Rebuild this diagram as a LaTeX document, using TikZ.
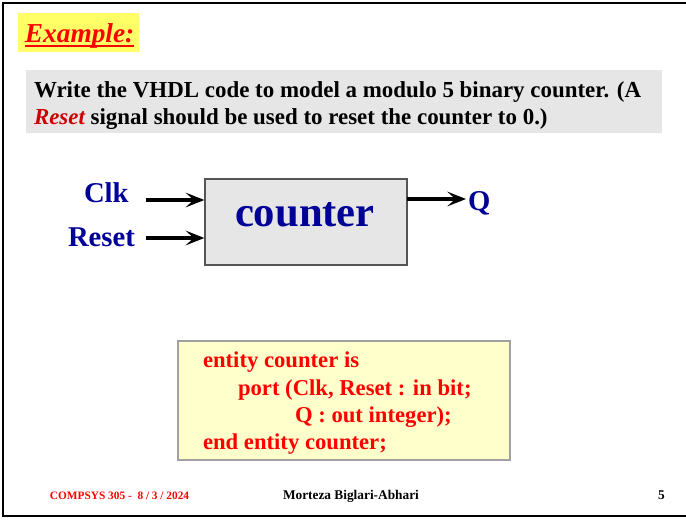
\documentclass[tikz,border=0pt]{standalone}
\usepackage{fontspec}
\setmainfont{Liberation Serif}
\usetikzlibrary{arrows.meta}

\definecolor{hiyellow}{RGB}{255,255,102}
\definecolor{panelgray}{RGB}{230,230,230}
\definecolor{codeyellow}{RGB}{255,255,204}
\definecolor{codeframe}{RGB}{160,160,160}
\definecolor{boxframe}{RGB}{85,85,85}
\definecolor{portblue}{RGB}{0,0,153}
\definecolor{kwred}{RGB}{255,0,0}
\definecolor{darkred}{RGB}{204,0,0}

\tikzset{
  txt/.style={inner sep=0pt, outer sep=0pt, anchor=base west},
  sig/.style={txt, text=portblue, font=\bfseries\fontsize{21.5}{24}\selectfont},
  code/.style={txt, text=kwred, font=\bfseries\fontsize{17}{20}\selectfont},
  task/.style={txt, font=\bfseries\fontsize{17.2}{20}\selectfont},
  wire/.style={line width=2.8pt, -{Stealth[length=14pt,width=11pt,inset=6pt]}},
  frame/.style={line width=2pt, draw=black}
}

\begin{document}
\begin{tikzpicture}[x=0.75pt, y=-0.75pt]
\useasboundingbox (0,0) rectangle (686,519);

% slide frame (open on the right)
\draw[frame] (687,3) -- (3,3) -- (3,516) -- (687,516);

% heading
\fill[hiyellow] (18,13) rectangle (139,52);
\node[txt, text=kwred, font=\bfseries\itshape\fontsize{20.5}{24}\selectfont] (ex) at (25,42) {Example:};
\draw[kwred, line width=1.5pt] ([yshift=-3pt]ex.base west) -- ([yshift=-3pt]ex.base east);

% task statement
\fill[panelgray] (26,70) rectangle (662,133);
\node[task] (q1) at (34,97)
  {Write the VHDL code to model a modulo 5 binary counter. (A};
\node[task] (q2) at (34,124)
  {{\color{darkred}\itshape Reset} signal should be used to reset the counter to 0.)};

% counter block
\node[draw=boxframe, fill=panelgray, line width=1pt, minimum width=202*0.75pt,
      minimum height=86*0.75pt, inner sep=0pt] (ctr) at (306,222) {};
\node[txt, text=portblue, font=\bfseries\fontsize{32}{36}\selectfont] (ctrlbl) at (235,226) {counter};

\node[sig] (clk) at (84,202) {Clk};
\node[sig] (rst) at (68,246) {Reset};
\node[sig] (q) at (468,210) {Q};

\coordinate (clkin) at (146,200);
\coordinate (rstin) at (146,238);
\draw[wire] (clkin) -- (clkin -| ctr.west);
\draw[wire] (rstin) -- (rstin -| ctr.west);
\coordinate (qout) at (407,199);
\draw[wire] (qout) -- (466,199);

% entity declaration
\node[draw=codeframe, fill=codeyellow, line width=1pt, minimum width=332*0.75pt,
      minimum height=119*0.75pt, inner sep=0pt] (codebox) at (344,400.5) {};
\node[code] (c1) at (203,367) {entity counter is};
\node[code] (c2) at (238,395) {port (Clk, Reset : in bit;};
\node[code] (c3) at (295,422) {Q : out integer);};
\node[code] (c4) at (203,449) {end entity counter;};

% footer
\node[txt, text=kwred, font=\bfseries\fontsize{8.5}{10}\selectfont] (f1) at (50,499) {COMPSYS 305 -\ \ 8 / 3 / 2024};
\node[txt, font=\bfseries\fontsize{10}{12}\selectfont] (f2) at (283,499) {Morteza Biglari-Abhari};
\node[txt, font=\bfseries\fontsize{10}{12}\selectfont] (f3) at (658,499) {5};
\end{tikzpicture}
\end{document}
